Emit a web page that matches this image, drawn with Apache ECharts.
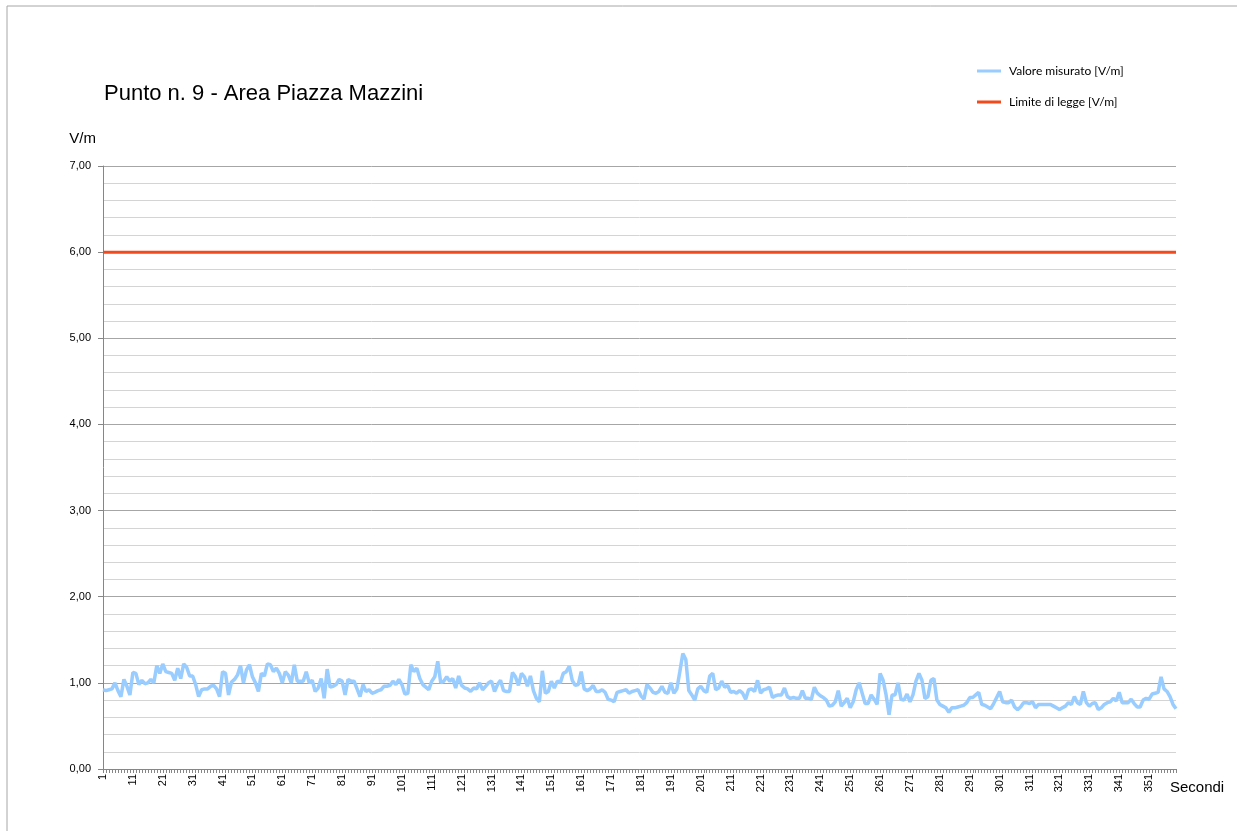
<!DOCTYPE html>
<html>
<head>
<meta charset="utf-8">
<title>Punto n. 9 - Area Piazza Mazzini</title>
<script src="https://cdn.jsdelivr.net/npm/echarts@6/dist/echarts.min.js"></script>
<style>
  html, body { margin: 0; padding: 0; background: #fff; }
  #chart { width: 1237px; height: 831px; }
</style>
</head>
<body>
<div id="chart"></div>
<script>
// valori (V/m), un valore al secondo
const valoreMisurato = [
  0.92, 0.91, 0.92, 0.93, 1.00, 0.91, 0.84, 1.04, 0.96, 0.86,
  1.12, 1.11, 0.98, 1.03, 0.99, 1.00, 1.04, 1.00, 1.20, 1.11,
  1.22, 1.13, 1.12, 1.11, 1.03, 1.17, 1.05, 1.22, 1.18, 1.08,
  1.08, 0.98, 0.84, 0.92, 0.93, 0.93, 0.96, 0.97, 0.93, 0.84,
  1.13, 1.11, 0.86, 1.01, 1.04, 1.09, 1.20, 1.00, 1.15, 1.21,
  1.07, 1.00, 0.90, 1.11, 1.08, 1.22, 1.21, 1.13, 1.17, 1.11,
  1.00, 1.13, 1.09, 1.00, 1.21, 1.02, 1.02, 1.02, 1.13, 1.00,
  1.03, 0.90, 0.94, 1.05, 0.82, 1.16, 0.95, 0.96, 0.98, 1.04,
  1.02, 0.86, 1.04, 1.02, 1.02, 0.93, 0.84, 0.98, 0.90, 0.92,
  0.88, 0.89, 0.91, 0.92, 0.96, 0.96, 0.97, 1.02, 0.98, 1.04,
  0.98, 0.87, 0.88, 1.21, 1.13, 1.17, 1.05, 0.98, 0.95, 0.92,
  1.02, 1.07, 1.25, 1.00, 1.02, 1.07, 1.02, 1.05, 0.94, 1.08,
  0.97, 0.94, 0.93, 0.90, 0.94, 0.93, 1.00, 0.92, 0.96, 1.00,
  1.02, 0.90, 0.98, 1.03, 0.91, 0.90, 0.90, 1.12, 1.07, 0.97,
  1.11, 1.07, 0.96, 1.08, 0.91, 0.82, 0.78, 1.14, 0.88, 0.90,
  1.02, 0.94, 1.02, 1.00, 1.11, 1.13, 1.19, 1.03, 0.97, 0.98,
  1.13, 0.93, 0.91, 0.93, 0.97, 0.90, 0.90, 0.92, 0.89, 0.81,
  0.80, 0.78, 0.89, 0.90, 0.91, 0.92, 0.88, 0.90, 0.91, 0.92,
  0.85, 0.81, 0.98, 0.94, 0.89, 0.88, 0.90, 0.96, 0.89, 0.88,
  1.00, 0.88, 0.93, 1.13, 1.34, 1.27, 0.91, 0.86, 0.80, 0.93,
  0.96, 0.91, 0.89, 1.08, 1.11, 0.92, 0.94, 1.02, 0.95, 0.97,
  0.89, 0.90, 0.88, 0.91, 0.88, 0.81, 0.92, 0.93, 0.90, 1.03,
  0.88, 0.92, 0.93, 0.95, 0.83, 0.85, 0.86, 0.86, 0.94, 0.84,
  0.82, 0.83, 0.82, 0.82, 0.91, 0.82, 0.82, 0.81, 0.95, 0.88,
  0.85, 0.83, 0.80, 0.73, 0.74, 0.78, 0.91, 0.73, 0.77, 0.82,
  0.71, 0.78, 0.92, 1.00, 0.88, 0.76, 0.76, 0.86, 0.81, 0.75,
  1.11, 1.03, 0.86, 0.63, 0.86, 0.86, 1.00, 0.81, 0.80, 0.87,
  0.78, 0.86, 1.02, 1.11, 1.03, 0.82, 0.84, 1.03, 1.05, 0.80,
  0.75, 0.73, 0.71, 0.66, 0.71, 0.71, 0.72, 0.73, 0.74, 0.77,
  0.83, 0.83, 0.86, 0.89, 0.75, 0.74, 0.72, 0.70, 0.76, 0.83,
  0.90, 0.78, 0.77, 0.77, 0.80, 0.72, 0.69, 0.72, 0.77, 0.77,
  0.76, 0.78, 0.71, 0.75, 0.75, 0.75, 0.75, 0.75, 0.73, 0.71,
  0.69, 0.71, 0.73, 0.77, 0.75, 0.84, 0.77, 0.75, 0.90, 0.77,
  0.73, 0.76, 0.77, 0.69, 0.71, 0.75, 0.77, 0.78, 0.82, 0.79,
  0.89, 0.77, 0.77, 0.77, 0.81, 0.76, 0.72, 0.72, 0.80, 0.82,
  0.81, 0.87, 0.88, 0.89, 1.07, 0.93, 0.90, 0.84, 0.75, 0.70
];

// limite di legge (V/m)
const limiteDiLegge = 6;

// secondi 1..N (etichette asse x)
const secondi = valoreMisurato.map((v, i) => String(i + 1));
const limite = secondi.map(() => limiteDiLegge);

const yTicks = { min: 0, max: 7, interval: 1 };

const chart = echarts.init(document.getElementById('chart'));

const fmt = v => v.toFixed(2).replace('.', ',');

chart.setOption({
  backgroundColor: '#ffffff',
  animation: false,
  textStyle: { fontFamily: 'Liberation Sans, Arial, sans-serif' },
  title: {
    text: 'Punto n. 9 - Area Piazza Mazzini',
    left: 99,
    top: 78,
    textStyle: {
      fontFamily: 'Liberation Sans, Arial, sans-serif',
      fontSize: 22,
      fontWeight: 'normal',
      color: '#000'
    }
  },
  legend: {
    orient: 'vertical',
    left: 972,
    top: 60,
    icon: 'rect',
    itemWidth: 24,
    itemHeight: 3,
    itemGap: 19,
    textStyle: {
      fontFamily: 'Lato, Carlito, sans-serif',
      fontSize: 12,
      color: '#000',
      padding: [0, 0, 0, 3]
    },
    data: ['Valore misurato [V/m]', 'Limite di legge [V/m]']
  },
  grid: {
    left: 103,
    right: 61,
    top: 166,
    bottom: 62
  },
  xAxis: {
    type: 'category',
    data: secondi,
    boundaryGap: false,
    name: 'Secondi',
    nameLocation: 'end',
    nameGap: 0,
    nameTextStyle: {
      fontSize: 15,
      color: '#000',
      align: 'left',
      verticalAlign: 'top',
      padding: [11, 0, 0, -6]
    },
    axisLine: { lineStyle: { color: '#868686', width: 1 } },
    axisTick: {
      show: true,
      interval: 0,
      length: 4,
      lineStyle: { color: '#868686' }
    },
    axisLabel: {
      interval: 9,
      rotate: 90,
      margin: 5,
      fontSize: 11,
      color: '#000'
    },
    splitLine: { show: false }
  },
  yAxis: {
    type: 'value',
    min: yTicks.min,
    max: yTicks.max,
    interval: yTicks.interval,
    name: 'V/m',
    nameLocation: 'end',
    nameGap: 20,
    nameTextStyle: {
      fontSize: 15,
      color: '#000',
      align: 'right',
      padding: [0, 7, 0, 0]
    },
    axisLine: { show: true, lineStyle: { color: '#868686', width: 1 } },
    axisTick: { show: true, length: 5, lineStyle: { color: '#868686' } },
    axisLabel: {
      formatter: fmt,
      fontSize: 11,
      margin: 12,
      color: '#000'
    },
    splitLine: { show: true, lineStyle: { color: '#a6a6a6', width: 1 } },
    minorTick: { show: false, splitNumber: 5 },
    minorSplitLine: { show: true, lineStyle: { color: '#d4d4d4', width: 1 } }
  },
  graphic: [
    {
      // cornice del grafico (solo lati sinistro e superiore visibili)
      type: 'rect',
      shape: { x: 7, y: 6, width: 1300, height: 900 },
      style: { fill: 'none', stroke: '#a6a6a6', lineWidth: 1 },
      silent: true
    }
  ],
  series: [
    {
      name: 'Valore misurato [V/m]',
      type: 'line',
      data: valoreMisurato,
      showSymbol: false,
      symbol: 'none',
      lineStyle: { color: '#99ccff', width: 3.5 },
      itemStyle: { color: '#99ccff' },
      z: 3
    },
    {
      name: 'Limite di legge [V/m]',
      type: 'line',
      data: limite,
      showSymbol: false,
      symbol: 'none',
      lineStyle: { color: '#f24a1d', width: 3 },
      itemStyle: { color: '#f24a1d' },
      z: 2
    }
  ]
});
</script>
</body>
</html>
